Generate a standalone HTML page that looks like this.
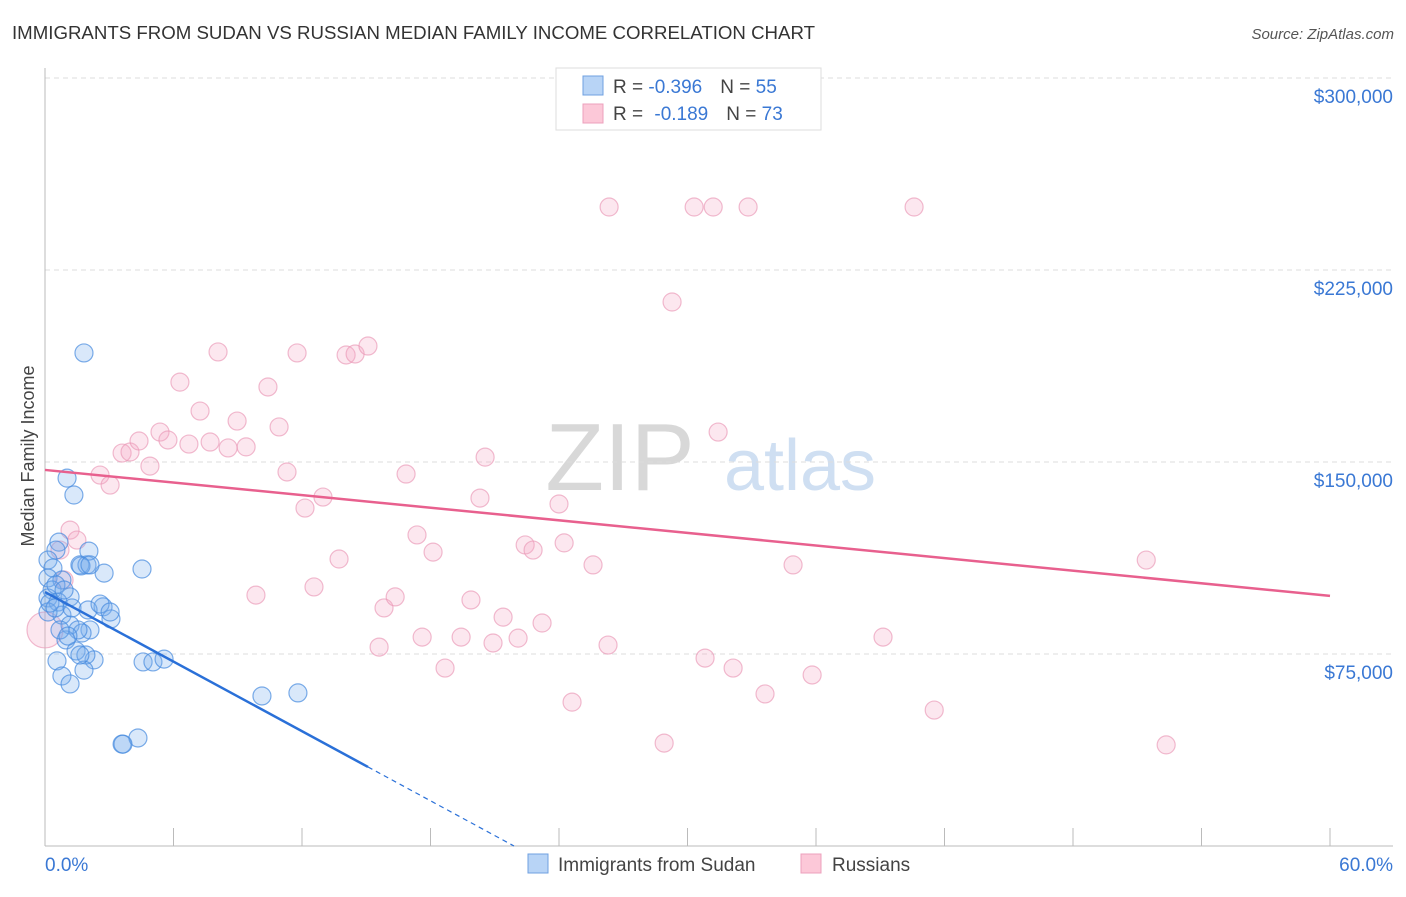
<!DOCTYPE html>
<html><head><meta charset="utf-8"><style>
body{margin:0;background:#fff;font-family:"Liberation Sans",sans-serif}
svg text{font-family:"Liberation Sans",sans-serif}
</style></head><body>
<svg id="chart" width="1406" height="892" viewBox="0 0 1406 892" xmlns="http://www.w3.org/2000/svg">
<text x="12" y="39" font-size="18" fill="#333" textLength="803" lengthAdjust="spacingAndGlyphs">IMMIGRANTS FROM SUDAN VS RUSSIAN MEDIAN FAMILY INCOME CORRELATION CHART</text>
<text x="1394" y="39" font-size="15" fill="#555" font-style="italic" text-anchor="end">Source: ZipAtlas.com</text>
<text x="620" y="490" font-size="96" fill="#d8d8d8" font-family="Liberation Serif" text-anchor="middle">ZIP</text>
<text x="800" y="490" font-size="72" fill="#cfdff2" text-anchor="middle">atlas</text>
<text transform="translate(34,456) rotate(-90)" font-size="18" fill="#444" text-anchor="middle">Median Family Income</text>
<g id="grid"></g><g id="axes"></g><g id="pink"></g><g id="blue"></g><g id="trends"></g>
<g>
<rect x="556" y="68" width="265" height="62" fill="#fff" stroke="#ddd"/>
<rect x="583" y="76" width="20" height="19" fill="#b8d4f6" stroke="#6fa0e0"/>
<rect x="583" y="104" width="20" height="19" fill="#fcc8d8" stroke="#eca0bc"/>
<text x="613" y="93" font-size="19" fill="#444">R = <tspan fill="#3a78d4">-0.396</tspan><tspan dx="18">N = </tspan><tspan fill="#3a78d4">55</tspan></text>
<text x="613" y="120" font-size="19" fill="#444">R = <tspan dx="6" fill="#3a78d4">-0.189</tspan><tspan dx="18">N = </tspan><tspan fill="#3a78d4">73</tspan></text>
</g>
<g>
<rect x="528" y="854" width="20" height="19" fill="#b8d4f6" stroke="#6fa0e0"/>
<text x="558" y="871" font-size="19" fill="#444">Immigrants from Sudan</text>
<rect x="801" y="854" width="20" height="19" fill="#fcc8d8" stroke="#eca0bc"/>
<text x="832" y="871" font-size="19" fill="#444">Russians</text>
</g>
</svg>
<script>
const yTicks=[75000,150000,225000,300000];
const yTickLabels=["$75,000","$150,000","$225,000","$300,000"];
const xTickLabels=["0.0%","60.0%"];
const blueX=[1.82,1.03,1.35,0.65,0.51,0.14,0.37,1.63,1.96,2.05,2.76,4.53,0.14,0.79,0.33,0.14,1.17,0.61,2.71,3.08,0.79,1.17,2.10,1.73,1.54,0.98,2.29,1.45,1.91,0.56,1.82,0.79,1.17,4.58,5.04,5.56,10.13,11.81,3.60,4.34,3.64,0.14,0.23,0.51,0.89,1.68,2.10,0.47,1.26,2.01,2.57,0.70,1.07,1.63,3.04];
const blueY=[192.6,143.7,137.1,118.7,115.6,111.7,108.6,109.8,109.8,115.2,106.6,108.2,104.7,103.9,100.0,96.9,97.3,95.3,93.4,88.7,90.2,86.3,84.4,83.2,84.4,80.5,72.7,76.2,74.6,72.3,68.7,66.4,63.3,71.9,71.9,73.0,58.6,59.8,39.8,42.2,39.8,91.4,94.9,102.0,100.0,109.4,109.8,93.0,93.0,92.2,94.5,84.4,82.0,74.6,91.4];
const pinkX=[0,1.17,1.49,0.70,0.89,2.57,3.04,3.60,3.97,4.39,4.90,5.37,5.74,6.30,6.72,7.24,7.71,8.08,8.55,8.97,9.39,9.85,10.41,10.93,11.30,11.77,12.14,12.56,12.98,13.73,14.06,14.48,15.08,15.60,15.83,16.35,16.86,17.37,17.61,18.12,18.68,19.43,19.89,20.31,20.55,20.92,21.39,22.09,22.42,22.79,23.21,24.00,24.24,24.61,25.59,26.29,26.34,28.91,29.28,30.31,30.82,31.20,31.43,32.13,32.83,33.62,34.93,35.82,39.13,40.58,41.52,51.42,52.35];
const pinkY=[84.4,123.4,119.5,115.6,103.9,144.9,141.0,153.5,153.9,158.2,148.4,161.7,158.6,181.2,157.0,169.9,157.8,193.0,155.5,166.0,155.9,98.0,179.3,163.7,146.1,192.6,132.0,101.2,136.3,112.1,191.8,192.2,195.3,77.7,93.0,97.3,145.3,121.5,81.6,114.8,69.5,81.6,96.1,135.9,151.9,79.3,89.4,81.2,117.6,115.6,87.1,133.6,118.4,56.2,109.8,78.5,249.6,40.2,212.5,249.6,73.4,249.6,161.7,69.5,249.6,59.4,109.8,66.8,81.6,249.6,53.1,111.7,39.5];
const pinkTrend=[146.9,97.7];   // $k at 0% and 60%
const blueTrend=[99.2,-4.53];   // intercept $k, slope $k per %
const blueSolidEnd=15.08, blueDashEnd=21.9;
const NS="http://www.w3.org/2000/svg";
const X=v=>45+v/60*1285;
const Y=k=>846-k*1000/75000*192;
function mk(t,a,p){const e=document.createElementNS(NS,t);for(const k in a)e.setAttribute(k,a[k]);p.appendChild(e);return e;}
const grid=document.getElementById('grid'),axes=document.getElementById('axes');
yTicks.forEach((t,i)=>{
 const l=mk('line',{x1:45,x2:1393,y1:Y(t/1000),y2:Y(t/1000),stroke:'#ddd','stroke-dasharray':'5,4'},grid);
 
 
 const tx=mk('text',{x:1393,y:Y(t/1000)+25,'font-size':19,fill:'#3a78d4','text-anchor':'end'},grid);
 tx.textContent=yTickLabels[i];
 
 
});
mk('line',{x1:45,x2:45,y1:68,y2:846,stroke:'#bbb'},axes);
const xa=mk('line',{x1:45,x2:1393,y1:846,y2:846,stroke:'#bbb'},axes);


for(let i=0;i<=10;i++){mk('line',{x1:X(i*6),x2:X(i*6),y1:828,y2:846,stroke:'#bbb'},axes);}
const xl0=mk('text',{x:45,y:871,'font-size':19,fill:'#3a78d4'},axes);xl0.textContent=xTickLabels[0];


const xl1=mk('text',{x:1393,y:871,'font-size':19,fill:'#3a78d4','text-anchor':'end'},axes);xl1.textContent=xTickLabels[1];


const pg=document.getElementById('pink');
pinkX.forEach((x,i)=>{const c=mk('circle',{cx:X(x),cy:Y(pinkY[i]),r:i===0?18:9,fill:'rgba(246,170,198,0.28)',stroke:'rgba(234,150,182,0.65)','stroke-width':1.2},pg);
 
 });
const bg=document.getElementById('blue');
blueX.forEach((x,i)=>{const c=mk('circle',{cx:X(x),cy:Y(blueY[i]),r:9,fill:'rgba(120,172,238,0.28)',stroke:'rgba(70,138,222,0.7)','stroke-width':1.2},bg);
 
 });
const tg=document.getElementById('trends');
const pt=mk('line',{x1:X(0),y1:Y(pinkTrend[0]),x2:X(60),y2:Y(pinkTrend[1]),stroke:'#e8608e','stroke-width':2.5},tg);


const bY=x=>blueTrend[0]+blueTrend[1]*x;
const bt=mk('line',{x1:X(0),y1:Y(bY(0)),x2:X(blueSolidEnd),y2:Y(bY(blueSolidEnd)),stroke:'#2a70d8','stroke-width':2.5},tg);


const bd=mk('line',{x1:X(blueSolidEnd),y1:Y(bY(blueSolidEnd)),x2:X(blueDashEnd),y2:Y(bY(blueDashEnd)),stroke:'#2a70d8','stroke-width':1.2,'stroke-dasharray':'5,4'},tg);


</script>
</body></html>
